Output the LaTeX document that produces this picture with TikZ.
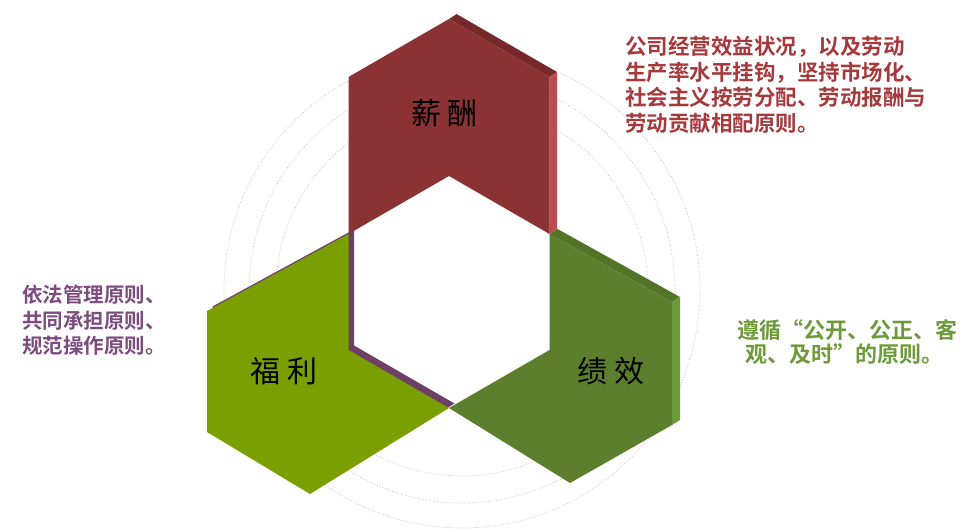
\documentclass[tikz,border=0pt]{standalone}
\usepackage{fontspec}
\newfontfamily\hei{Noto Sans CJK SC}
\newfontfamily\song{Noto Sans CJK SC Bold}
\usetikzlibrary{calc}
\definecolor{payfront}{RGB}{138,50,52}
\definecolor{paytop}{RGB}{118,40,42}
\definecolor{payside}{RGB}{186,76,78}
\definecolor{welfront}{RGB}{121,160,0}
\definecolor{welback}{RGB}{110,64,102}
\definecolor{perffront}{RGB}{92,127,46}
\definecolor{perftop}{RGB}{82,116,40}
\definecolor{perfside}{RGB}{108,154,58}
\definecolor{txtred}{RGB}{165,58,61}
\definecolor{txtpurple}{RGB}{125,76,126}
\definecolor{txtgreen}{RGB}{110,155,58}
\definecolor{ringgray}{RGB}{185,185,185}
\tikzset{
  ring/.style={draw=ringgray, line width=0.7pt, dotted},
  label/.style={font=\hei\fontsize{30}{30}\selectfont, text=black, inner sep=0pt},
  desc/.style={font=\song\fontsize{21.5}{25.5}\selectfont, align=left, inner sep=0pt, anchor=west}
}
\begin{document}
\begin{tikzpicture}[x=1pt,y=-1pt]
\useasboundingbox (0,0) rectangle (964,532);
\fill[white] (0,0) rectangle (964,532);
% rings
\foreach \r in {186,213,238} \draw[ring] (462,290) circle[radius=\r];
% central hexagon
\coordinate (T) at (449,176);
\coordinate (UR) at (549.5,234);
\coordinate (LR) at (549.5,350);
\coordinate (B) at (449,408);
\coordinate (LL) at (348.5,350);
\coordinate (UL) at (348.5,234);
% welfare (left)
\coordinate (gUL) at (207,311);
\coordinate (gLL) at (207,432);
\coordinate (gB) at (310,494);
\fill[welback] ($(UL)+(5.5,-4.5)$) -- ($(LL)+(5.5,-4.5)$) -- ($(B)+(5.5,-4.5)$) -- ($(gB)+(5.5,-4.5)$) -- ($(gLL)+(5.5,-4.5)$) -- ($(gUL)+(5.5,-4.5)$) -- cycle;
\fill[welfront] (UL) -- (LL) -- (B) -- (gB) -- (gLL) -- (gUL) -- cycle;
% performance (right)
\coordinate (pUR) at (672,302);
\coordinate (pLR) at (672,425);
\coordinate (pB) at (570,483);
\fill[perftop] (UR) -- (pUR) -- ($(pUR)+(8,-5)$) -- ($(UR)+(8,-5)$) -- cycle;
\fill[perfside] (pUR) -- (pLR) -- ($(pLR)+(8,-5)$) -- ($(pUR)+(8,-5)$) -- cycle;
\fill[perffront] (UR) -- (pUR) -- (pLR) -- (pB) -- (B) -- (LR) -- cycle;
% pay (top)
\coordinate (rUL) at (348.5,77);
\coordinate (rT) at (449,19);
\coordinate (rUR) at (549.5,77);
\fill[paytop] (rT) -- (rUR) -- ($(rUR)+(7.5,-5)$) -- ($(rT)+(7.5,-5)$) -- cycle;
\fill[payside] (rUR) -- (UR) -- ($(UR)+(7.5,-5)$) -- ($(rUR)+(7.5,-5)$) -- cycle;
\fill[payfront] (rUL) -- (rT) -- (rUR) -- (UR) -- (T) -- (UL) -- cycle;
% labels
\node[label] (payl) at (444,113) {薪\hspace{6pt}酬};
\node[label] (well) at (284,371) {福\hspace{8pt}利};
\node[label] (perfl) at (611,371) {绩\hspace{7pt}效};
% descriptions
\node[desc, text=txtred] (payd) at (625,85) {公司经营效益状况，以及劳动\\生产率水平挂钩，坚持市场化、\\社会主义按劳分配、劳动报酬与\\劳动贡献相配原则。};
\node[desc, text=txtpurple, font=\song\fontsize{20.5}{25.5}\selectfont] (weld) at (22,320.5) {依法管理原则、\\共同承担原则、\\规范操作原则。};
\node[desc, text=txtgreen, font=\song\fontsize{22}{23.5}\selectfont] (perfd) at (737,342) {遵循“公开、公正、客\\\hspace*{8pt}观、及时”的原则。};
\end{tikzpicture}
\end{document}
